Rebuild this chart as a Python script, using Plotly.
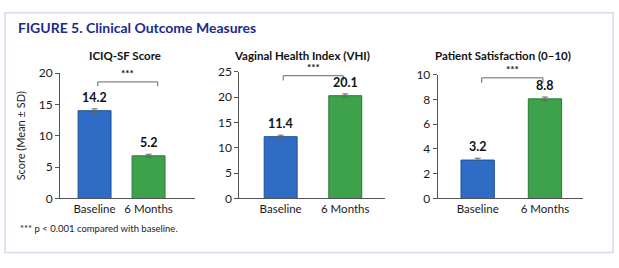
import plotly.graph_objects as go

categories = ["Baseline", "6 Months"]
panel_titles = ["ICIQ-SF Score", "Vaginal Health Index (VHI)", "Patient Satisfaction (0–10)"]
bar_values = [[14.0, 6.8], [12.2, 20.3], [3.1, 8.05]]
bar_errors = [[0.3, 0.25], [0.3, 0.35], [0.15, 0.15]]
value_labels = [["14.2", "5.2"], ["11.4", "20.1"], ["3.2", "8.8"]]
y_ranges = [[0, 20], [0, 25], [0, 10]]
y_dticks = [5, 5, 2]
bracket_levels = [[18.6, 17.9], [24.25, 23.3], [9.75, 9.35]]

W, H = 619, 268
FONT = "Lato"
fill_colors = ["#2f6cc5", "#3da24b"]
line_colors = ["#1e4f9c", "#287a35"]

# pixel layout of the panels: (x_left, x_right, y_bottom, y_top)
panels_px = [(60, 195, 201.7, 69), (239.3, 385, 201.7, 67.7), (437.7, 583.3, 201.7, 70.7)]
title_centers_px = [125, 301.5, 503]
x_ranges = [[-0.64, 1.86], [-0.64, 1.615], [-0.594, 1.57]]
bar_widths = [0.61, 0.51, 0.495]
bracket_x = [[0.06, 1.17], [0.04, 0.97], [0.06, 0.97]]

fig = go.Figure()
layout_axes = {}
annotations = []
shapes = []

for i in range(3):
    xa = "x" if i == 0 else f"x{i+1}"
    ya = "y" if i == 0 else f"y{i+1}"
    xl, xr, yb, yt = panels_px[i]
    fig.add_trace(go.Bar(
        x=categories, y=bar_values[i], xaxis=xa, yaxis=ya,
        width=bar_widths[i],
        marker=dict(color=fill_colors, line=dict(color=line_colors, width=1)),
        error_y=dict(type="data", array=bar_errors[i], color="#666666", thickness=1, width=3),
        showlegend=False, hoverinfo="skip",
    ))
    key = "" if i == 0 else str(i + 1)
    layout_axes["xaxis" + key] = dict(
        domain=[xl / W, xr / W], range=x_ranges[i], anchor=ya,
        showline=True, linecolor="#555555", linewidth=1,
        ticks="", showgrid=False, zeroline=False,
        tickfont=dict(family=FONT, size=11.5, color="#1a1a1a"),
        fixedrange=True,
    )
    layout_axes["yaxis" + key] = dict(
        domain=[1 - yb / H, 1 - yt / H], range=y_ranges[i], anchor=xa,
        dtick=y_dticks[i], showline=True, linecolor="#555555", linewidth=1,
        ticks="outside", ticklen=4, tickcolor="#555555",
        showgrid=False, zeroline=False,
        tickfont=dict(family=FONT, size=12, color="#1a1a1a"),
        fixedrange=True,
    )
    if i == 0:
        layout_axes["yaxis"]["title"] = dict(text="Score (Mean ± SD)", standoff=10,
                                             font=dict(family=FONT, size=11, color="#222222"))
    # value labels
    for j in range(2):
        annotations.append(dict(
            x=j, y=bar_values[i][j] + bar_errors[i][j], xref=xa, yref=ya,
            text=f"<b>{value_labels[i][j]}</b>", showarrow=False,
            yanchor="bottom", yshift=2,
            font=dict(family=FONT, size=12.5, color="#111111"),
        ))
    # significance bracket
    top, low = bracket_levels[i]
    bx0, bx1 = bracket_x[i]
    shapes.append(dict(
        type="path", xref=xa, yref=ya,
        path=f"M {bx0} {low} L {bx0} {top} L {bx1} {top} L {bx1} {low}",
        line=dict(color="#666666", width=1),
    ))
    annotations.append(dict(
        x=(bx0 + bx1) / 2, y=top, xref=xa, yref=ya, text="<b>***</b>",
        showarrow=False, yanchor="bottom", yshift=1,
        font=dict(family=FONT, size=10, color="#111111"),
    ))
    # panel title
    annotations.append(dict(
        x=title_centers_px[i] / W, y=1 - 50 / H, xref="paper", yref="paper",
        text=f"<b>{panel_titles[i]}</b>", showarrow=False,
        xanchor="center", yanchor="middle",
        font=dict(family=FONT, size=11.5, color="#111111"),
    ))

# figure title
annotations.append(dict(
    x=16 / W, y=1 - 21 / H, xref="paper", yref="paper",
    text="<b>FIGURE 5. Clinical Outcome Measures</b>", showarrow=False,
    xanchor="left", yanchor="middle",
    font=dict(family=FONT, size=14, color="#1c2a8e"),
))
# footnote
annotations.append(dict(
    x=18 / W, y=1 - 234 / H, xref="paper", yref="paper",
    text="*** p < 0.001 compared with baseline.", showarrow=False,
    xanchor="left", yanchor="middle",
    font=dict(family=FONT, size=9.5, color="#222222"),
))
# card border
shapes.append(dict(
    type="rect", xref="paper", yref="paper",
    x0=5 / W, x1=613 / W, y0=1 - 259 / H, y1=1 - 5 / H,
    line=dict(color="#d6d9f0", width=1.5), fillcolor="rgba(0,0,0,0)", layer="below",
))

fig.update_layout(
    width=W, height=H, margin=dict(l=0, r=0, t=0, b=0),
    paper_bgcolor="white", plot_bgcolor="white",
    annotations=annotations, shapes=shapes, bargap=0.3,
    **layout_axes,
)
fig.write_html("out.html", config={"displayModeBar": False})
